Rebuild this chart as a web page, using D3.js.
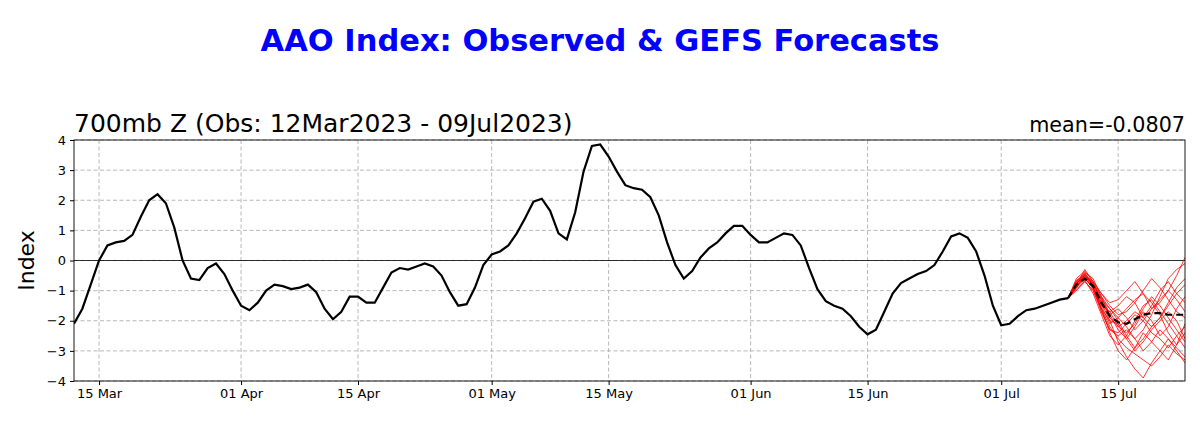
<!DOCTYPE html>
<html><head><meta charset="utf-8">
<script src="https://cdn.jsdelivr.net/npm/d3@7"></script>
<style>body{margin:0;background:#fff}svg{font-family:"DejaVu Sans",sans-serif}</style>
</head><body><svg id="c" width="1200" height="430"></svg>
<script>
const obsStart = "2023-03-12";
const obsValues = [-2.1,-1.6,-0.8,0.0,0.5,0.6,0.65,0.85,1.45,2.0,2.2,1.9,1.1,0.0,-0.6,-0.65,-0.25,-0.1,-0.45,-1.0,
-1.5,-1.65,-1.4,-1.0,-0.8,-0.85,-0.95,-0.9,-0.8,-1.05,-1.6,-1.95,-1.7,-1.2,-1.2,-1.4,-1.4,-0.9,-0.4,-0.25,
-0.3,-0.2,-0.1,-0.2,-0.5,-1.05,-1.5,-1.45,-0.9,-0.15,0.2,0.3,0.5,0.9,1.4,1.95,2.05,1.65,0.9,0.7,
1.6,2.95,3.8,3.85,3.45,2.95,2.5,2.4,2.35,2.1,1.5,0.6,-0.15,-0.6,-0.35,0.1,0.4,0.6,0.9,1.15,
1.15,0.85,0.6,0.6,0.75,0.9,0.85,0.5,-0.25,-0.95,-1.35,-1.5,-1.6,-1.85,-2.2,-2.45,-2.3,-1.7,-1.1,-0.75,
-0.6,-0.45,-0.35,-0.15,0.3,0.8,0.9,0.75,0.3,-0.5,-1.5,-2.15,-2.1,-1.85,-1.65,-1.6,-1.5,-1.4,-1.3,-1.25];
const fcstStart = "2023-07-09";
const fcstMean = [-1.25,-0.8,-0.6,-0.85,-1.4,-1.85,-2.05,-2.1,-1.95,-1.8,-1.75,-1.75,-1.8,-1.8,-1.8];
const members = [
[-1.25,-0.7,-0.4,-0.6,-1.2,-1.6,-1.9,-2.2,-2.6,-2.3,-1.8,-1.2,-0.6,-0.3,-0.1],
[-1.25,-0.9,-0.5,-0.9,-1.6,-2.2,-2.6,-2.9,-3.1,-3.3,-3.5,-3.2,-2.8,-3.1,-3.3],
[-1.25,-0.8,-0.3,-0.7,-1.1,-1.4,-1.3,-1.0,-0.7,-1.1,-1.6,-1.4,-1.0,-0.5,0.1],
[-1.25,-1.0,-0.7,-1.0,-1.7,-2.3,-2.4,-2.1,-1.8,-2.0,-2.4,-2.6,-2.9,-2.5,-2.2],
[-1.25,-0.75,-0.55,-0.8,-1.3,-1.9,-2.2,-2.4,-2.1,-1.6,-1.2,-1.5,-1.9,-2.3,-2.7],
[-1.25,-0.6,-0.35,-0.7,-1.4,-2.0,-2.7,-3.2,-3.6,-3.9,-3.4,-3.0,-2.6,-2.9,-3.2],
[-1.25,-0.85,-0.6,-0.9,-1.5,-1.7,-1.5,-1.2,-1.4,-1.9,-1.5,-1.0,-0.7,-1.1,-1.4],
[-1.25,-0.7,-0.45,-0.75,-1.2,-1.8,-2.3,-2.6,-2.2,-1.7,-2.0,-2.5,-2.2,-1.6,-1.2],
[-1.25,-0.9,-0.65,-1.1,-1.8,-2.5,-2.8,-2.5,-2.0,-1.5,-1.3,-1.7,-2.1,-2.5,-2.9],
[-1.25,-0.65,-0.5,-0.8,-1.3,-1.6,-2.0,-2.5,-2.9,-2.6,-2.2,-1.9,-1.4,-0.9,-0.6],
[-1.25,-0.8,-0.4,-0.85,-1.5,-2.1,-1.9,-1.6,-1.3,-1.1,-1.4,-1.8,-2.4,-2.8,-2.4],
[-1.25,-0.95,-0.7,-1.0,-1.6,-2.4,-3.0,-3.3,-2.9,-2.4,-2.7,-3.0,-3.3,-2.8,-2.1],
[-1.25,-0.75,-0.5,-0.7,-1.1,-1.5,-1.8,-1.7,-1.4,-1.0,-0.6,-0.9,-1.3,-1.7,-1.9],
[-1.25,-0.85,-0.55,-0.95,-1.6,-2.0,-2.1,-2.6,-3.0,-2.7,-2.3,-2.0,-1.7,-2.0,-2.6],
[-1.25,-0.7,-0.6,-0.9,-1.4,-1.7,-2.2,-2.0,-1.7,-1.9,-2.2,-1.9,-1.5,-1.1,-0.8],
[-1.25,-0.8,-0.5,-0.8,-1.7,-2.3,-2.5,-2.3,-2.6,-3.0,-2.7,-2.3,-2.6,-3.0,-3.4],
[-1.25,-0.9,-0.45,-0.75,-1.25,-1.8,-1.6,-1.9,-2.3,-2.0,-1.6,-1.3,-1.0,-1.3,-1.7]
];
const xTicks = ["2023-03-15","2023-04-01","2023-04-15","2023-05-01","2023-05-15","2023-06-01","2023-06-15","2023-07-01","2023-07-15"];
const yTicks = [-4,-3,-2,-1,0,1,2,3,4];
const titleText = "AAO Index: Observed & GEFS Forecasts";
const subLeft = "700mb Z (Obs: 12Mar2023 - 09Jul2023)";
const subRight = "mean=-0.0807";

const svg = d3.select("#c");
const L=74,R=1185,T=140,B=381;
const pd = d3.utcParse("%Y-%m-%d");
const day = (s,i)=>d3.utcDay.offset(pd(s),i);
const x = d3.scaleUtc().domain([pd("2023-03-12"),pd("2023-07-23")]).range([L,R]);
const y = d3.scaleLinear().domain([-4,4]).range([B,T]);
const g = svg.append("g");
g.append("g").selectAll("line").data(xTicks).join("line")
 .attr("x1",d=>x(pd(d))).attr("x2",d=>x(pd(d))).attr("y1",T).attr("y2",B)
 .attr("stroke","#b0b0b0").attr("stroke-dasharray","4,2.5").attr("stroke-width",0.9);
g.append("g").selectAll("line").data(yTicks).join("line")
 .attr("x1",L).attr("x2",R).attr("y1",d=>y(d)).attr("y2",d=>y(d))
 .attr("stroke","#b0b0b0").attr("stroke-dasharray","4,2.5").attr("stroke-width",0.9);
g.append("line").attr("x1",L).attr("x2",R).attr("y1",y(0)).attr("y2",y(0)).attr("stroke","#000").attr("stroke-width",0.8);
const defs=svg.append("defs");
defs.append("clipPath").attr("id","cp").append("rect").attr("x",L).attr("y",T).attr("width",R-L).attr("height",B-T);
const line = s=>d3.line().x((d,i)=>x(day(s,i))).y(d=>y(d));
const pl = svg.append("g").attr("clip-path","url(#cp)");
members.forEach(m=>pl.append("path").attr("d",line(fcstStart)(m)).attr("fill","none").attr("stroke","#ff0000").attr("stroke-width",0.8));
pl.append("path").attr("d",line(obsStart)(obsValues)).attr("fill","none").attr("stroke","#000").attr("stroke-width",2.2);
pl.append("path").attr("d",line(fcstStart)(fcstMean)).attr("fill","none").attr("stroke","#000").attr("stroke-width",2.2).attr("stroke-dasharray","7,4");
svg.append("rect").attr("x",L).attr("y",T).attr("width",R-L).attr("height",B-T).attr("fill","none").attr("stroke","#000").attr("stroke-width",0.9);
const xa = svg.append("g").attr("transform",`translate(0,${B})`)
 .call(d3.axisBottom(x).tickValues(xTicks.map(pd)).tickFormat(d3.utcFormat("%d %b")).tickSize(4).tickPadding(4));
xa.select(".domain").remove();
xa.selectAll("text").attr("font-size",13).attr("fill","#000").attr("font-family","DejaVu Sans");
const ya = svg.append("g").attr("transform",`translate(${L},0)`)
 .call(d3.axisLeft(y).tickValues(yTicks).tickSize(4).tickPadding(4));
ya.select(".domain").remove();
ya.selectAll("text").attr("font-size",13).attr("fill","#000").attr("font-family","DejaVu Sans");
svg.append("text").attr("x",600).attr("y",51).attr("text-anchor","middle").attr("font-size",30.5).attr("font-weight","bold").attr("fill","#0000ff").text(titleText);
svg.append("text").attr("x",L).attr("y",132).attr("font-size",25).text(subLeft);
svg.append("text").attr("x",R).attr("y",132).attr("text-anchor","end").attr("font-size",20.7).text(subRight);
svg.append("text").attr("transform",`translate(34,${(T+B)/2}) rotate(-90)`).attr("text-anchor","middle").attr("font-size",22).text("Index");
</script></body></html>
